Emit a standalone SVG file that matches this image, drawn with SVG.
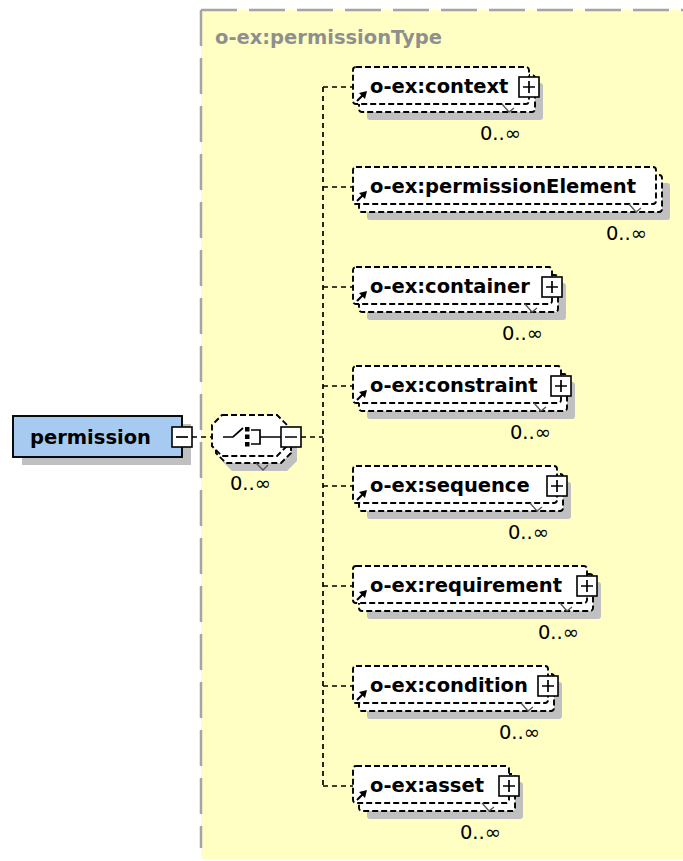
<svg xmlns="http://www.w3.org/2000/svg" xmlns:xlink="http://www.w3.org/1999/xlink" width="683" height="861" viewBox="0 0 683 861">
  <style>
    .panel { fill: #ffffc4; }
    .panel-edge { fill: none; stroke: #a4a4a4; stroke-width: 2.5; stroke-dasharray: 36 12; }
    .title { font-family: "DejaVu Sans", Verdana, sans-serif; font-weight: bold; font-size: 19.5px; fill: #8f8f8f; }
    .name { font-family: "DejaVu Sans", Verdana, sans-serif; font-weight: bold; font-size: 19.5px; fill: #000; }
    .card { font-family: "DejaVu Sans", Verdana, sans-serif; font-size: 19.5px; fill: #000; text-anchor: end; }
    .shadow { fill: #c0c0c0; }
    .opt { fill: #fff; stroke: #000; stroke-width: 1.9; stroke-dasharray: 6 3; }
    .req { fill: #a6caf0; stroke: #000; stroke-width: 1.9; }
    .btn { fill: #fff; stroke: #000; stroke-width: 1.6; }
    .ink { fill: none; stroke: #000; stroke-width: 1.7; }
    .notch { fill: none; stroke: #555; stroke-width: 1.3; }
    .wire { fill: none; stroke: #000; stroke-width: 1.7; stroke-dasharray: 5 4; }
  </style>
  <defs>
    <!-- compositor outline (octagon) -->
    <polygon id="oct" points="222,415 277,415 287,425 287,446 277,456 222,456 212,446 212,425"/>
    <!-- reference arrow drawn inside element boxes -->
    <g id="ref-arrow">
      <path d="M357,14 L363,8" fill="none" stroke="#000" stroke-width="2.2"/>
      <polygon points="367,4 359,6 365,12" fill="#000"/>
    </g>
    <!-- expand button -->
    <g id="plus">
      <rect class="btn" x="-10" y="-10" width="20" height="20"/>
      <path class="ink" d="M-6,0 H6 M0,-6 V6"/>
    </g>
  </defs>

  <!-- complex type area -->
  <rect class="panel" x="201" y="10" width="490" height="849"/>
  <path class="panel-edge" d="M201,10 H683"/>
  <path class="panel-edge" d="M201,10 V848"/>
  <text class="title" x="215" y="44">o-ex:permissionType</text>

  <!-- connectors -->
  <g id="connectors">
    <path class="wire" d="M192,437 H212"/>
    <path class="wire" d="M301,437 H323"/>
    <path class="wire" d="M323,87 V786"/>
    <path class="wire" d="M323,87 H353 M323,187 H353 M323,287 H353 M323,386 H353 M323,486 H353 M323,586 H353 M323,686 H353 M323,786 H353"/>
  </g>

  <!-- root element -->
  <g id="permission">
    <rect class="shadow" x="22" y="424" width="169" height="41"/>
    <rect class="req" x="13" y="416" width="169" height="41"/>
    <text class="name" x="30" y="444">permission</text>
    <rect class="btn" x="172" y="427" width="20" height="20"/>
    <path class="ink" d="M176,437 H188"/>
  </g>

  <!-- sequence compositor -->
  <g id="sequence-compositor">
    <use xlink:href="#oct" class="shadow" transform="translate(10,15)"/>
    <use xlink:href="#oct" class="opt" transform="translate(4,7)"/>
    <use xlink:href="#oct" class="opt"/>
    <path class="ink" d="M223,437 H233 L243,428"/>
    <rect x="245" y="427" width="4.5" height="4.5" fill="#000"/>
    <rect x="245" y="434.5" width="4.5" height="4.5" fill="#000"/>
    <rect x="245" y="442" width="4.5" height="4.5" fill="#000"/>
    <path class="ink" d="M251,430 H260 V444 H251 M260,437 H281"/>
    <path class="notch" d="M256,463 L263,470 L268,465"/>
    <rect class="btn" x="281" y="427" width="20" height="20"/>
    <path class="ink" d="M285,437 H297 M291,447 V451"/>
    <text class="card" x="271" y="490">0..∞</text>
  </g>

  <!-- child elements -->
  <g id="context" transform="translate(0,87)">
    <rect class="shadow" x="367" y="-4" width="176" height="37" rx="3"/>
    <rect class="opt" x="359" y="-12" width="176" height="37" rx="3"/>
    <rect class="opt" x="353" y="-20" width="176" height="37" rx="3"/>
    <text class="name" x="370" y="6">o-ex:context</text>
    <use xlink:href="#ref-arrow"/>
    <path class="notch" d="M502,17 L509,25 L514,21"/>
    <use xlink:href="#plus" transform="translate(529,0)"/>
    <text class="card" x="521" y="53">0..∞</text>
  </g>

  <g id="permissionElement" transform="translate(0,187)">
    <rect class="shadow" x="367" y="-4" width="303" height="37" rx="3"/>
    <rect class="opt" x="359" y="-12" width="303" height="37" rx="3"/>
    <rect class="opt" x="353" y="-20" width="303" height="37" rx="3"/>
    <text class="name" x="370" y="6">o-ex:permissionElement</text>
    <use xlink:href="#ref-arrow"/>
    <path class="notch" d="M629,17 L636,25 L641,21"/>
    <text class="card" x="647" y="53">0..∞</text>
  </g>

  <g id="container" transform="translate(0,287)">
    <rect class="shadow" x="367" y="-4" width="199" height="37" rx="3"/>
    <rect class="opt" x="359" y="-12" width="199" height="37" rx="3"/>
    <rect class="opt" x="353" y="-20" width="199" height="37" rx="3"/>
    <text class="name" x="370" y="6">o-ex:container</text>
    <use xlink:href="#ref-arrow"/>
    <path class="notch" d="M525,17 L532,25 L537,21"/>
    <use xlink:href="#plus" transform="translate(552,0)"/>
    <text class="card" x="543" y="53">0..∞</text>
  </g>

  <g id="constraint" transform="translate(0,386)">
    <rect class="shadow" x="367" y="-4" width="208" height="37" rx="3"/>
    <rect class="opt" x="359" y="-12" width="208" height="37" rx="3"/>
    <rect class="opt" x="353" y="-20" width="208" height="37" rx="3"/>
    <text class="name" x="370" y="6">o-ex:constraint</text>
    <use xlink:href="#ref-arrow"/>
    <path class="notch" d="M534,17 L541,25 L546,21"/>
    <use xlink:href="#plus" transform="translate(561,0)"/>
    <text class="card" x="551" y="53">0..∞</text>
  </g>

  <g id="sequence" transform="translate(0,486)">
    <rect class="shadow" x="367" y="-4" width="204" height="37" rx="3"/>
    <rect class="opt" x="359" y="-12" width="204" height="37" rx="3"/>
    <rect class="opt" x="353" y="-20" width="204" height="37" rx="3"/>
    <text class="name" x="370" y="6">o-ex:sequence</text>
    <use xlink:href="#ref-arrow"/>
    <path class="notch" d="M530,17 L537,25 L542,21"/>
    <use xlink:href="#plus" transform="translate(557,0)"/>
    <text class="card" x="549" y="53">0..∞</text>
  </g>

  <g id="requirement" transform="translate(0,586)">
    <rect class="shadow" x="367" y="-4" width="234" height="37" rx="3"/>
    <rect class="opt" x="359" y="-12" width="234" height="37" rx="3"/>
    <rect class="opt" x="353" y="-20" width="234" height="37" rx="3"/>
    <text class="name" x="370" y="6">o-ex:requirement</text>
    <use xlink:href="#ref-arrow"/>
    <path class="notch" d="M560,17 L567,25 L572,21"/>
    <use xlink:href="#plus" transform="translate(587,0)"/>
    <text class="card" x="579" y="53">0..∞</text>
  </g>

  <g id="condition" transform="translate(0,686)">
    <rect class="shadow" x="367" y="-4" width="195" height="37" rx="3"/>
    <rect class="opt" x="359" y="-12" width="195" height="37" rx="3"/>
    <rect class="opt" x="353" y="-20" width="195" height="37" rx="3"/>
    <text class="name" x="370" y="6">o-ex:condition</text>
    <use xlink:href="#ref-arrow"/>
    <path class="notch" d="M521,17 L528,25 L533,21"/>
    <use xlink:href="#plus" transform="translate(548,0)"/>
    <text class="card" x="540" y="53">0..∞</text>
  </g>

  <g id="asset" transform="translate(0,786)">
    <rect class="shadow" x="367" y="-4" width="156" height="37" rx="3"/>
    <rect class="opt" x="359" y="-12" width="156" height="37" rx="3"/>
    <rect class="opt" x="353" y="-20" width="156" height="37" rx="3"/>
    <text class="name" x="370" y="6">o-ex:asset</text>
    <use xlink:href="#ref-arrow"/>
    <path class="notch" d="M482,17 L489,25 L494,21"/>
    <use xlink:href="#plus" transform="translate(509,0)"/>
    <text class="card" x="501" y="53">0..∞</text>
  </g>
</svg>
